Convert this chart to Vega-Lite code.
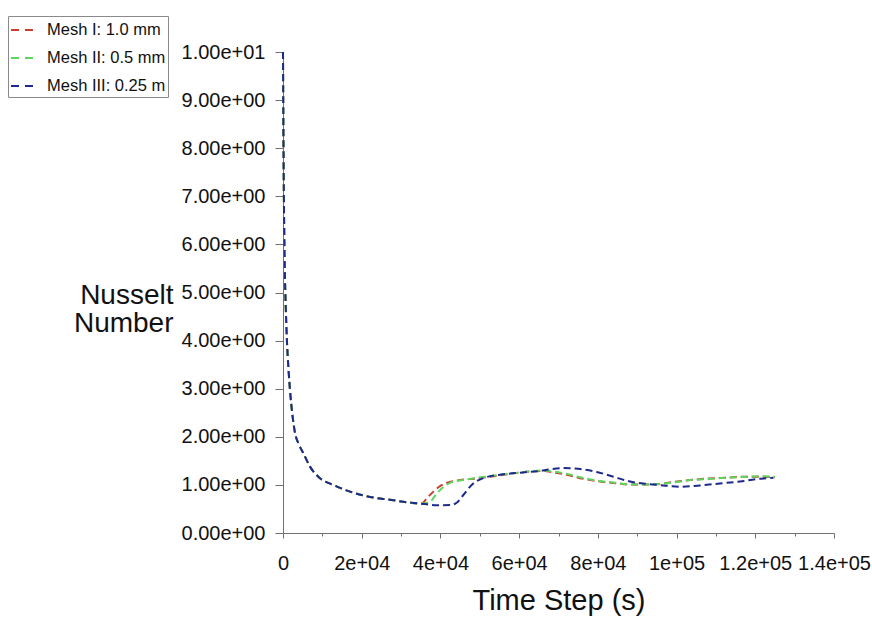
{
  "$schema": "https://vega.github.io/schema/vega-lite/v6.json",
  "width": 551,
  "height": 481,
  "autosize": "none",
  "padding": {"left": 283, "top": 52, "right": 38, "bottom": 84},
  "background": "white",
  "config": {
    "view": {"stroke": null},
    "font": "Liberation Sans",
    "axis": {"labelFont": "Liberation Sans", "titleFont": "Liberation Sans", "labelColor": "#111", "titleColor": "#111", "domainColor": "#707070", "tickColor": "#707070", "grid": false}
  },
  "datasets": {
    "nu": [
      {"mesh": "Mesh I: 1.0 mm", "t": 0, "nu": 10.0},
      {"mesh": "Mesh I: 1.0 mm", "t": 60, "nu": 9.0},
      {"mesh": "Mesh I: 1.0 mm", "t": 150, "nu": 7.8},
      {"mesh": "Mesh I: 1.0 mm", "t": 280, "nu": 6.5},
      {"mesh": "Mesh I: 1.0 mm", "t": 450, "nu": 5.5},
      {"mesh": "Mesh I: 1.0 mm", "t": 700, "nu": 4.7},
      {"mesh": "Mesh I: 1.0 mm", "t": 1000, "nu": 4.0},
      {"mesh": "Mesh I: 1.0 mm", "t": 1400, "nu": 3.4},
      {"mesh": "Mesh I: 1.0 mm", "t": 1800, "nu": 2.95},
      {"mesh": "Mesh I: 1.0 mm", "t": 2400, "nu": 2.45},
      {"mesh": "Mesh I: 1.0 mm", "t": 3050, "nu": 2.08},
      {"mesh": "Mesh I: 1.0 mm", "t": 4000, "nu": 1.85},
      {"mesh": "Mesh I: 1.0 mm", "t": 5160, "nu": 1.66},
      {"mesh": "Mesh I: 1.0 mm", "t": 6860, "nu": 1.38},
      {"mesh": "Mesh I: 1.0 mm", "t": 9400, "nu": 1.14},
      {"mesh": "Mesh I: 1.0 mm", "t": 12780, "nu": 1.0},
      {"mesh": "Mesh I: 1.0 mm", "t": 17020, "nu": 0.86},
      {"mesh": "Mesh I: 1.0 mm", "t": 22100, "nu": 0.75},
      {"mesh": "Mesh I: 1.0 mm", "t": 27190, "nu": 0.69},
      {"mesh": "Mesh I: 1.0 mm", "t": 31430, "nu": 0.64},
      {"mesh": "Mesh I: 1.0 mm", "t": 35240, "nu": 0.61},
      {"mesh": "Mesh I: 1.0 mm", "t": 36500, "nu": 0.72},
      {"mesh": "Mesh I: 1.0 mm", "t": 38200, "nu": 0.86},
      {"mesh": "Mesh I: 1.0 mm", "t": 40000, "nu": 0.98},
      {"mesh": "Mesh I: 1.0 mm", "t": 41590, "nu": 1.04},
      {"mesh": "Mesh I: 1.0 mm", "t": 44980, "nu": 1.10},
      {"mesh": "Mesh I: 1.0 mm", "t": 48500, "nu": 1.13},
      {"mesh": "Mesh I: 1.0 mm", "t": 52600, "nu": 1.17},
      {"mesh": "Mesh I: 1.0 mm", "t": 56000, "nu": 1.21},
      {"mesh": "Mesh I: 1.0 mm", "t": 59380, "nu": 1.25},
      {"mesh": "Mesh I: 1.0 mm", "t": 62700, "nu": 1.28},
      {"mesh": "Mesh I: 1.0 mm", "t": 66140, "nu": 1.29},
      {"mesh": "Mesh I: 1.0 mm", "t": 68690, "nu": 1.26},
      {"mesh": "Mesh I: 1.0 mm", "t": 72080, "nu": 1.21},
      {"mesh": "Mesh I: 1.0 mm", "t": 75470, "nu": 1.14},
      {"mesh": "Mesh I: 1.0 mm", "t": 79700, "nu": 1.08},
      {"mesh": "Mesh I: 1.0 mm", "t": 83930, "nu": 1.04},
      {"mesh": "Mesh I: 1.0 mm", "t": 88170, "nu": 1.01},
      {"mesh": "Mesh I: 1.0 mm", "t": 92410, "nu": 1.01},
      {"mesh": "Mesh I: 1.0 mm", "t": 95800, "nu": 1.02},
      {"mesh": "Mesh I: 1.0 mm", "t": 99180, "nu": 1.06},
      {"mesh": "Mesh I: 1.0 mm", "t": 103400, "nu": 1.10},
      {"mesh": "Mesh I: 1.0 mm", "t": 107660, "nu": 1.13},
      {"mesh": "Mesh I: 1.0 mm", "t": 112740, "nu": 1.15},
      {"mesh": "Mesh I: 1.0 mm", "t": 117820, "nu": 1.17},
      {"mesh": "Mesh I: 1.0 mm", "t": 122000, "nu": 1.17},
      {"mesh": "Mesh I: 1.0 mm", "t": 125000, "nu": 1.16},

      {"mesh": "Mesh II: 0.5 mm", "t": 0, "nu": 10.0},
      {"mesh": "Mesh II: 0.5 mm", "t": 60, "nu": 9.0},
      {"mesh": "Mesh II: 0.5 mm", "t": 150, "nu": 7.8},
      {"mesh": "Mesh II: 0.5 mm", "t": 280, "nu": 6.5},
      {"mesh": "Mesh II: 0.5 mm", "t": 450, "nu": 5.5},
      {"mesh": "Mesh II: 0.5 mm", "t": 700, "nu": 4.7},
      {"mesh": "Mesh II: 0.5 mm", "t": 1000, "nu": 4.0},
      {"mesh": "Mesh II: 0.5 mm", "t": 1400, "nu": 3.4},
      {"mesh": "Mesh II: 0.5 mm", "t": 1800, "nu": 2.95},
      {"mesh": "Mesh II: 0.5 mm", "t": 2400, "nu": 2.45},
      {"mesh": "Mesh II: 0.5 mm", "t": 3050, "nu": 2.08},
      {"mesh": "Mesh II: 0.5 mm", "t": 4000, "nu": 1.85},
      {"mesh": "Mesh II: 0.5 mm", "t": 5160, "nu": 1.66},
      {"mesh": "Mesh II: 0.5 mm", "t": 6860, "nu": 1.38},
      {"mesh": "Mesh II: 0.5 mm", "t": 9400, "nu": 1.14},
      {"mesh": "Mesh II: 0.5 mm", "t": 12780, "nu": 1.0},
      {"mesh": "Mesh II: 0.5 mm", "t": 17020, "nu": 0.86},
      {"mesh": "Mesh II: 0.5 mm", "t": 22100, "nu": 0.75},
      {"mesh": "Mesh II: 0.5 mm", "t": 27190, "nu": 0.69},
      {"mesh": "Mesh II: 0.5 mm", "t": 31430, "nu": 0.64},
      {"mesh": "Mesh II: 0.5 mm", "t": 35240, "nu": 0.61},
      {"mesh": "Mesh II: 0.5 mm", "t": 37350, "nu": 0.65},
      {"mesh": "Mesh II: 0.5 mm", "t": 39050, "nu": 0.82},
      {"mesh": "Mesh II: 0.5 mm", "t": 41160, "nu": 0.98},
      {"mesh": "Mesh II: 0.5 mm", "t": 43000, "nu": 1.06},
      {"mesh": "Mesh II: 0.5 mm", "t": 45820, "nu": 1.10},
      {"mesh": "Mesh II: 0.5 mm", "t": 48500, "nu": 1.14},
      {"mesh": "Mesh II: 0.5 mm", "t": 52600, "nu": 1.18},
      {"mesh": "Mesh II: 0.5 mm", "t": 56000, "nu": 1.22},
      {"mesh": "Mesh II: 0.5 mm", "t": 59380, "nu": 1.25},
      {"mesh": "Mesh II: 0.5 mm", "t": 62700, "nu": 1.28},
      {"mesh": "Mesh II: 0.5 mm", "t": 66140, "nu": 1.30},
      {"mesh": "Mesh II: 0.5 mm", "t": 68690, "nu": 1.28},
      {"mesh": "Mesh II: 0.5 mm", "t": 72080, "nu": 1.23},
      {"mesh": "Mesh II: 0.5 mm", "t": 75470, "nu": 1.16},
      {"mesh": "Mesh II: 0.5 mm", "t": 79700, "nu": 1.09},
      {"mesh": "Mesh II: 0.5 mm", "t": 83930, "nu": 1.05},
      {"mesh": "Mesh II: 0.5 mm", "t": 88170, "nu": 1.01},
      {"mesh": "Mesh II: 0.5 mm", "t": 92410, "nu": 1.01},
      {"mesh": "Mesh II: 0.5 mm", "t": 95800, "nu": 1.02},
      {"mesh": "Mesh II: 0.5 mm", "t": 99180, "nu": 1.05},
      {"mesh": "Mesh II: 0.5 mm", "t": 103400, "nu": 1.10},
      {"mesh": "Mesh II: 0.5 mm", "t": 107660, "nu": 1.12},
      {"mesh": "Mesh II: 0.5 mm", "t": 112740, "nu": 1.15},
      {"mesh": "Mesh II: 0.5 mm", "t": 117820, "nu": 1.17},
      {"mesh": "Mesh II: 0.5 mm", "t": 122000, "nu": 1.18},
      {"mesh": "Mesh II: 0.5 mm", "t": 125000, "nu": 1.17},

      {"mesh": "Mesh III: 0.25 mm", "t": 0, "nu": 10.0},
      {"mesh": "Mesh III: 0.25 mm", "t": 60, "nu": 9.0},
      {"mesh": "Mesh III: 0.25 mm", "t": 150, "nu": 7.8},
      {"mesh": "Mesh III: 0.25 mm", "t": 280, "nu": 6.5},
      {"mesh": "Mesh III: 0.25 mm", "t": 450, "nu": 5.5},
      {"mesh": "Mesh III: 0.25 mm", "t": 700, "nu": 4.7},
      {"mesh": "Mesh III: 0.25 mm", "t": 1000, "nu": 4.0},
      {"mesh": "Mesh III: 0.25 mm", "t": 1400, "nu": 3.4},
      {"mesh": "Mesh III: 0.25 mm", "t": 1800, "nu": 2.95},
      {"mesh": "Mesh III: 0.25 mm", "t": 2400, "nu": 2.45},
      {"mesh": "Mesh III: 0.25 mm", "t": 3050, "nu": 2.08},
      {"mesh": "Mesh III: 0.25 mm", "t": 4000, "nu": 1.85},
      {"mesh": "Mesh III: 0.25 mm", "t": 5160, "nu": 1.66},
      {"mesh": "Mesh III: 0.25 mm", "t": 6860, "nu": 1.38},
      {"mesh": "Mesh III: 0.25 mm", "t": 9400, "nu": 1.14},
      {"mesh": "Mesh III: 0.25 mm", "t": 12780, "nu": 1.0},
      {"mesh": "Mesh III: 0.25 mm", "t": 17020, "nu": 0.86},
      {"mesh": "Mesh III: 0.25 mm", "t": 22100, "nu": 0.75},
      {"mesh": "Mesh III: 0.25 mm", "t": 27190, "nu": 0.69},
      {"mesh": "Mesh III: 0.25 mm", "t": 31430, "nu": 0.64},
      {"mesh": "Mesh III: 0.25 mm", "t": 35240, "nu": 0.61},
      {"mesh": "Mesh III: 0.25 mm", "t": 37000, "nu": 0.59},
      {"mesh": "Mesh III: 0.25 mm", "t": 39050, "nu": 0.575},
      {"mesh": "Mesh III: 0.25 mm", "t": 42430, "nu": 0.58},
      {"mesh": "Mesh III: 0.25 mm", "t": 44130, "nu": 0.63},
      {"mesh": "Mesh III: 0.25 mm", "t": 45820, "nu": 0.79},
      {"mesh": "Mesh III: 0.25 mm", "t": 47940, "nu": 1.0},
      {"mesh": "Mesh III: 0.25 mm", "t": 50900, "nu": 1.14},
      {"mesh": "Mesh III: 0.25 mm", "t": 55980, "nu": 1.22},
      {"mesh": "Mesh III: 0.25 mm", "t": 61060, "nu": 1.26},
      {"mesh": "Mesh III: 0.25 mm", "t": 65300, "nu": 1.29},
      {"mesh": "Mesh III: 0.25 mm", "t": 67500, "nu": 1.32},
      {"mesh": "Mesh III: 0.25 mm", "t": 71230, "nu": 1.35},
      {"mesh": "Mesh III: 0.25 mm", "t": 74000, "nu": 1.34},
      {"mesh": "Mesh III: 0.25 mm", "t": 76300, "nu": 1.32},
      {"mesh": "Mesh III: 0.25 mm", "t": 79700, "nu": 1.27},
      {"mesh": "Mesh III: 0.25 mm", "t": 83930, "nu": 1.17},
      {"mesh": "Mesh III: 0.25 mm", "t": 88170, "nu": 1.07},
      {"mesh": "Mesh III: 0.25 mm", "t": 92410, "nu": 1.02},
      {"mesh": "Mesh III: 0.25 mm", "t": 96640, "nu": 0.99},
      {"mesh": "Mesh III: 0.25 mm", "t": 100880, "nu": 0.96},
      {"mesh": "Mesh III: 0.25 mm", "t": 105960, "nu": 0.99},
      {"mesh": "Mesh III: 0.25 mm", "t": 111040, "nu": 1.03},
      {"mesh": "Mesh III: 0.25 mm", "t": 116120, "nu": 1.07},
      {"mesh": "Mesh III: 0.25 mm", "t": 120370, "nu": 1.12},
      {"mesh": "Mesh III: 0.25 mm", "t": 124600, "nu": 1.15}
    ]
  },
  "data": {"name": "nu"},
  "layer": [
    {
      "mark": {"type": "line", "interpolate": "monotone", "strokeWidth": 2, "strokeDash": [7, 4]},
      "encoding": {
        "x": {
          "field": "t", "type": "quantitative",
          "scale": {"domain": [0, 140000], "nice": false, "zero": true},
          "axis": {
            "orient": "bottom",
            "values": [0, 20000, 40000, 60000, 80000, 100000, 120000, 140000],
            "labelExpr": "datum.value == 0 ? '0' : (datum.value < 100000 ? format(datum.value / 10000, '~g') + 'e+04' : format(datum.value / 100000, '~g') + 'e+05')",
            "tickSize": 5, "labelFontSize": 20, "labelPadding": 15, "labelBaseline": "top", "labelFlush": false, "labelOverlap": false,
            "title": "Time Step (s)", "titleFontSize": 29, "titleFontWeight": "normal", "titleY": 76, "titleBaseline": "alphabetic"
          }
        },
        "y": {
          "field": "nu", "type": "quantitative",
          "scale": {"domain": [0, 10], "nice": false},
          "axis": {
            "values": [0, 1, 2, 3, 4, 5, 6, 7, 8, 9, 10],
            "labelExpr": "datum.value >= 10 ? format(datum.value / 10, '.2f') + 'e+01' : format(datum.value, '.2f') + 'e+00'",
            "tickSize": 8, "labelFontSize": 20, "labelPadding": 10, "labelFlush": false, "labelOverlap": false,
            "title": ["Nusselt", "Number"], "titleFontSize": 28, "titleFontWeight": "normal", "titleAngle": 0,
            "titleAlign": "right", "titleBaseline": "alphabetic", "titleX": -110, "titleY": 251, "titleLineHeight": 28
          }
        },
        "color": {
          "field": "mesh", "type": "nominal",
          "scale": {"domain": ["Mesh I: 1.0 mm", "Mesh II: 0.5 mm", "Mesh III: 0.25 mm"], "range": ["#cc3b2e", "#5cd65c", "#1c2a8c"]},
          "legend": {
            "orient": "none", "legendX": -275, "legendY": -36,
            "title": null,
            "strokeColor": "#8a8a8a", "padding": 2,
            "symbolType": "stroke", "symbolSize": 484, "symbolStrokeWidth": 1.8, "symbolDash": [8, 6],
            "labelFont": "Liberation Sans", "labelFontSize": 16.5, "labelColor": "#111", "labelOffset": 13, "labelLimit": 120,
            "rowPadding": 7,
            "encode": {"labels": {"update": {"ellipsis": {"value": "\u200b"}}}}
          }
        }
      }
    },
    {
      "mark": {"type": "point", "opacity": 0},
      "encoding": {
        "x": {
          "field": "t", "type": "quantitative",
          "axis": {"orient": "bottom", "values": [10000, 30000, 50000, 70000, 90000, 110000, 130000], "tickSize": 3, "labels": false, "domain": false, "title": null}
        }
      }
    }
  ],
  "resolve": {"axis": {"x": "independent"}}
}
